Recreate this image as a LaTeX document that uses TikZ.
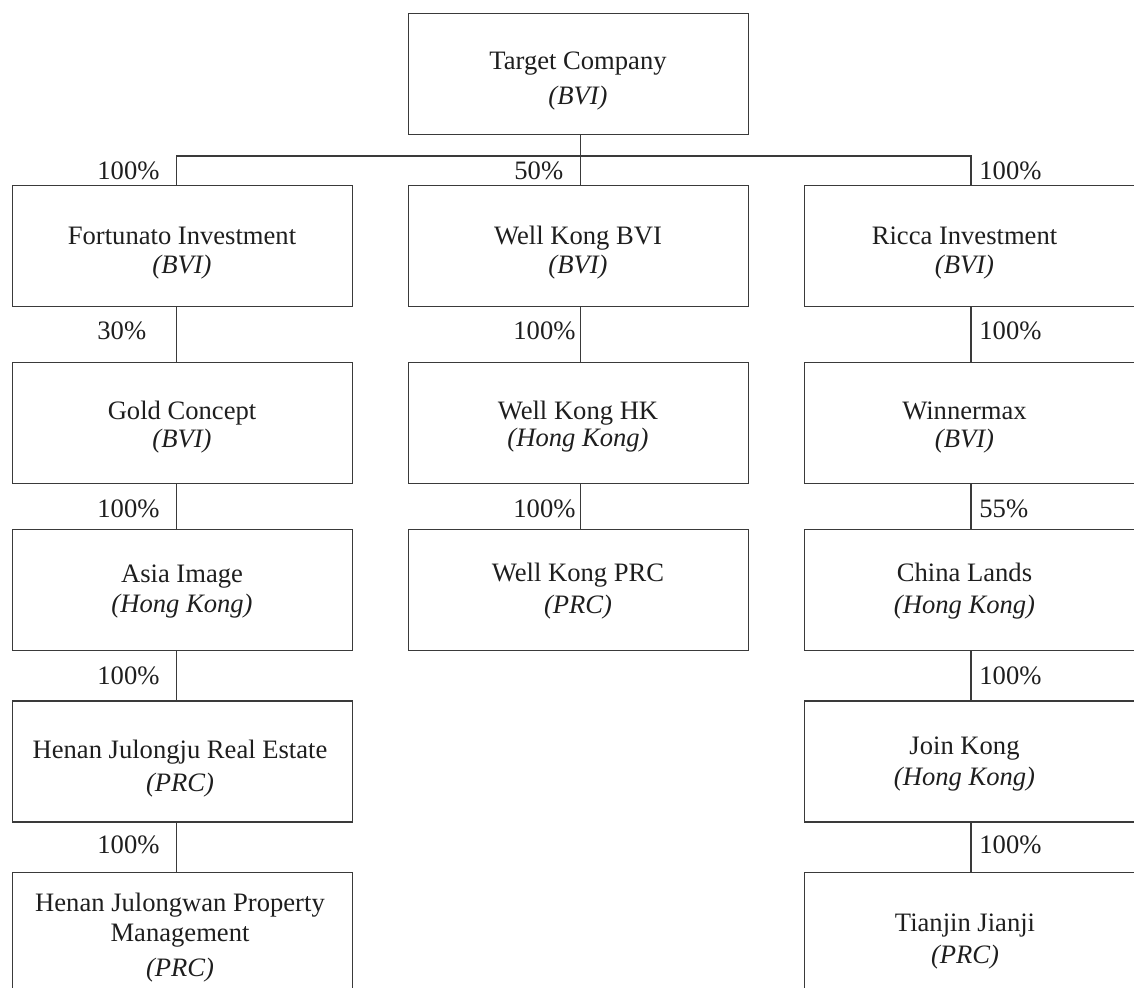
\documentclass[tikz,border=0pt]{standalone}
\usepackage{fontspec}
\setmainfont{Liberation Serif}
\definecolor{linec}{HTML}{3A3A3A}
\definecolor{textc}{HTML}{1E1E1E}
\begin{document}
\begin{tikzpicture}[x=0.5pt,y=-0.5pt,
  box/.style={draw=linec, line width=0.6pt, minimum width=170pt, minimum height=60.5pt, inner sep=0pt, anchor=north west},
  txt/.style={anchor=base, inner sep=0pt, text=textc, font=\fontsize{13.3}{15}\selectfont},
  ital/.style={txt, font=\fontsize{13.3}{15}\selectfont\itshape},
  pct/.style={anchor=base west, inner sep=0pt, text=textc, font=\fontsize{13.3}{15}\selectfont},
  conn/.style={draw=linec, line width=0.6pt}]
\useasboundingbox (0,0) rectangle (1134,988);
\clip (0,0) rectangle (1134,988);
% column coordinates
\coordinate (cL) at (176.7,0);
\coordinate (cM) at (580.7,0);
\coordinate (cR) at (971,0);
\coordinate (busL) at (176.7,156);
\coordinate (busM) at (580.7,156);
\coordinate (busR) at (971,156);
% boxes
\node[box] (tc)  at (407.7,13) {};
\node[box] (fi)  at (11.7,185) {};
\node[box] (wkb) at (407.7,185) {};
\node[box] (ri)  at (804,185) {};
\node[box] (gc)  at (11.7,361.7) {};
\node[box] (wkh) at (407.7,361.7) {};
\node[box] (wm)  at (804,361.7) {};
\node[box] (ai)  at (11.7,528.5) {};
\node[box] (wkp) at (407.7,528.5) {};
\node[box] (cl)  at (804,528.5) {};
\node[box] (hj)  at (11.7,700.3) {};
\node[box] (jk)  at (804,700.3) {};
\node[box] (hw)  at (11.7,871.7) {};
\node[box] (tj)  at (804,871.7) {};
% texts
\node[txt]  (tc1) at (578,70) {Target Company};
\node[ital] (tc2) at (578,105) {(BVI)};
\node[txt]  (fi1) at (182,244.3) {Fortunato Investment};
\node[ital] (fi2) at (182,274) {(BVI)};
\node[txt]  (wkb1) at (578,244.3) {Well Kong BVI};
\node[ital] (wkb2) at (578,274) {(BVI)};
\node[txt]  (ri1) at (964.5,244.3) {Ricca Investment};
\node[ital] (ri2) at (964.5,274) {(BVI)};
\node[txt]  (gc1) at (182,419.3) {Gold Concept};
\node[ital] (gc2) at (182,447.7) {(BVI)};
\node[txt]  (wkh1) at (578,419.3) {Well Kong HK};
\node[ital] (wkh2) at (578,447) {(Hong Kong)};
\node[txt]  (wm1) at (964.5,419.3) {Winnermax};
\node[ital] (wm2) at (964.5,447.7) {(BVI)};
\node[txt]  (ai1) at (182,582.7) {Asia Image};
\node[ital] (ai2) at (182,612.7) {(Hong Kong)};
\node[txt]  (wkp1) at (578,581.7) {Well Kong PRC};
\node[ital] (wkp2) at (578,613) {(PRC)};
\node[txt]  (cl1) at (964.5,581.7) {China Lands};
\node[ital] (cl2) at (964.5,613) {(Hong Kong)};
\node[txt]  (hj1) at (180,758) {Henan Julongju Real Estate};
\node[ital] (hj2) at (180,791.7) {(PRC)};
\node[txt]  (jk1) at (964.5,754) {Join Kong};
\node[ital] (jk2) at (964.5,785) {(Hong Kong)};
\node[txt]  (hw1) at (180,911.7) {Henan Julongwan Property};
\node[txt]  (hw2) at (180,941.7) {Management};
\node[ital] (hw3) at (180,976.7) {(PRC)};
\node[txt]  (tj1) at (965,931.7) {Tianjin Jianji};
\node[ital] (tj2) at (965,963) {(PRC)};
% percentages
\node[pct] (p1) at (97,179.5) {100\%};
\node[pct] (p2) at (514,179.5) {50\%};
\node[pct] (p3) at (979,179.5) {100\%};
\node[pct] (p4) at (97,340) {30\%};
\node[pct] (p5) at (513,340) {100\%};
\node[pct] (p6) at (979,340) {100\%};
\node[pct] (p7) at (97,517) {100\%};
\node[pct] (p8) at (513,517) {100\%};
\node[pct] (p9) at (979,517) {55\%};
\node[pct] (p10) at (97,684) {100\%};
\node[pct] (p11) at (979,684) {100\%};
\node[pct] (p12) at (97,853) {100\%};
\node[pct] (p13) at (979,853) {100\%};
% connectors
\draw[conn] (tc.south -| cM) -- (wkb.north -| cM);
\draw[conn] (fi.north -| cL) -- (busL) -- (busR) -- (ri.north -| cR);
\draw[conn] (fi.south -| cL) -- (gc.north -| cL);
\draw[conn] (gc.south -| cL) -- (ai.north -| cL);
\draw[conn] (ai.south -| cL) -- (hj.north -| cL);
\draw[conn] (hj.south -| cL) -- (hw.north -| cL);
\draw[conn] (wkb.south -| cM) -- (wkh.north -| cM);
\draw[conn] (wkh.south -| cM) -- (wkp.north -| cM);
\draw[conn] (ri.south -| cR) -- (wm.north -| cR);
\draw[conn] (wm.south -| cR) -- (cl.north -| cR);
\draw[conn] (cl.south -| cR) -- (jk.north -| cR);
\draw[conn] (jk.south -| cR) -- (tj.north -| cR);
\end{tikzpicture}
\end{document}
